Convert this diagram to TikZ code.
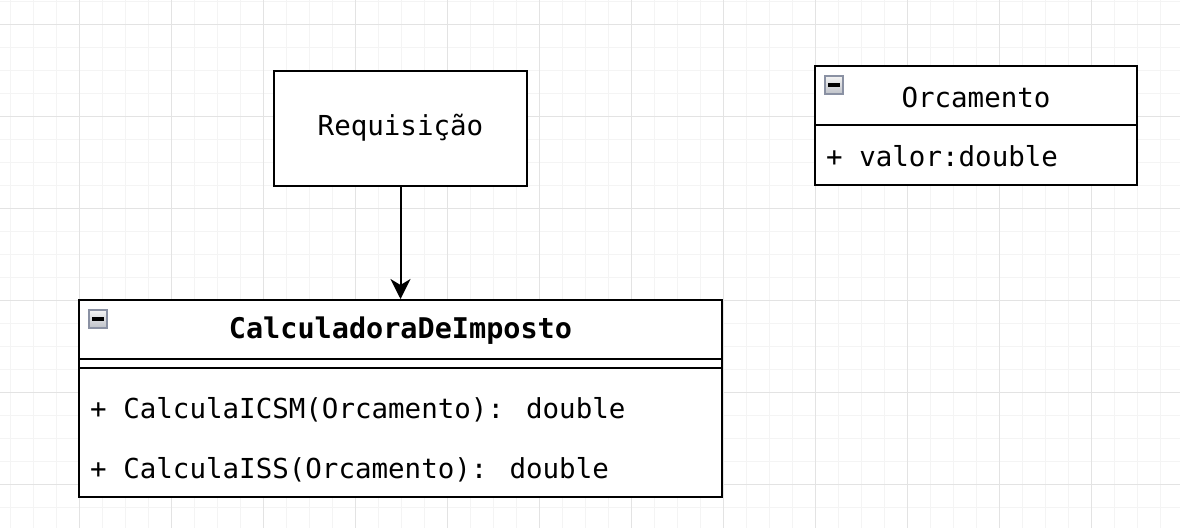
\documentclass[tikz,border=0pt]{standalone}
\usepackage{fontspec}
\usepackage{xcolor}
\usepackage[]{tikz}
\usetikzlibrary{positioning,calc}
\usetikzlibrary{arrows.meta}
\newfontfamily\umlmono{DejaVu Sans Mono}
\newcommand{\umlfont}{\umlmono\fontsize{27.5}{33}\selectfont}
\definecolor{gridMinor}{HTML}{F4F4F4}
\definecolor{gridMajor}{HTML}{E3E3E3}
\definecolor{iconBorder}{HTML}{8A91A3}
\definecolor{iconTop}{HTML}{F4F4F4}
\definecolor{iconBottom}{HTML}{BEC1C8}
\tikzstyle{nodeBox}  =[rectangle, draw, line width=2pt, fill=white, font=\umlfont, inner sep=0pt]
\tikzstyle{nodeText} =[font=\umlfont, inner sep=0pt]
\tikzstyle{nodeIcon} =[rectangle, draw=iconBorder, line width=2pt, minimum size=18pt, inner sep=0pt,
  top color=iconTop, bottom color=iconBottom,
  path picture={\fill[black] ([xshift=-6pt, yshift=-1.6pt]path picture bounding box.center) rectangle ([xshift=6pt, yshift=1.6pt]path picture bounding box.center);}]

\begin{document}
\begin{tikzpicture}[x=1pt, y=-1pt, auto, on grid, ]
      \useasboundingbox (0,0) rectangle (1180,528);
      % grid
      \foreach \x in {10,33,...,1180} \draw[gridMinor, line width=1pt] (\x,0) -- (\x,528);
      \foreach \y in {1,24,...,528} \draw[gridMinor, line width=1pt] (0,\y) -- (1180,\y);
      \foreach \x in {79,171,...,1180} \draw[gridMajor, line width=1pt] (\x,0) -- (\x,528);
      \foreach \y in {24,116,...,528} \draw[gridMajor, line width=1pt] (0,\y) -- (1180,\y);

      \node[nodeBox, minimum width=253pt, minimum height=115pt] (req) at (400.5,128) {Requisição};
      \node[nodeBox, minimum width=643pt, minimum height=197pt] (calc) [below = 270.5pt of req] {};
      \node[nodeBox, minimum width=322pt, minimum height=119pt] (orc) [right = 575.5pt of req, yshift=2.5pt] {};

      % CalculadoraDeImposto
      \draw[line width=2pt] ($(calc.north west)+(0,60)$) -- ($(calc.north east)+(0,60)$);
      \draw[line width=2pt] ($(calc.north west)+(0,69)$) -- ($(calc.north east)+(0,69)$);
      \node[nodeIcon] (calcIcon) at ($(calc.north west)+(20,20)$) {};
      \node[nodeText, font=\umlmono\fontsize{28.5}{34}\selectfont\bfseries] (calcTitle) at ($(calc.north)+(0,32)$) {CalculadoraDeImposto};
      \node[nodeText, anchor=west] (calcM1) at ($(calc.north west)+(12,111)$) {+ CalculaICSM(Orcamento): double};
      \node[nodeText, anchor=west] (calcM2) at ($(calc.north west)+(12,171)$) {+ CalculaISS(Orcamento): double};

      % Orcamento
      \draw[line width=2pt] ($(orc.north west)+(0,60)$) -- ($(orc.north east)+(0,60)$);
      \node[nodeIcon] (orcIcon) at ($(orc.north west)+(20,20)$) {};
      \node[nodeText] (orcTitle) at ($(orc.north)+(0,32)$) {Orcamento};
      \node[nodeText, anchor=west] (orcA1) at ($(orc.north west)+(12,91)$) {+ valor:double};

      \draw[-{Stealth[length=20pt, width=20pt, inset=6pt]}, line width=2pt] (req) -- (calc);
    \end{tikzpicture}
\end{document}
